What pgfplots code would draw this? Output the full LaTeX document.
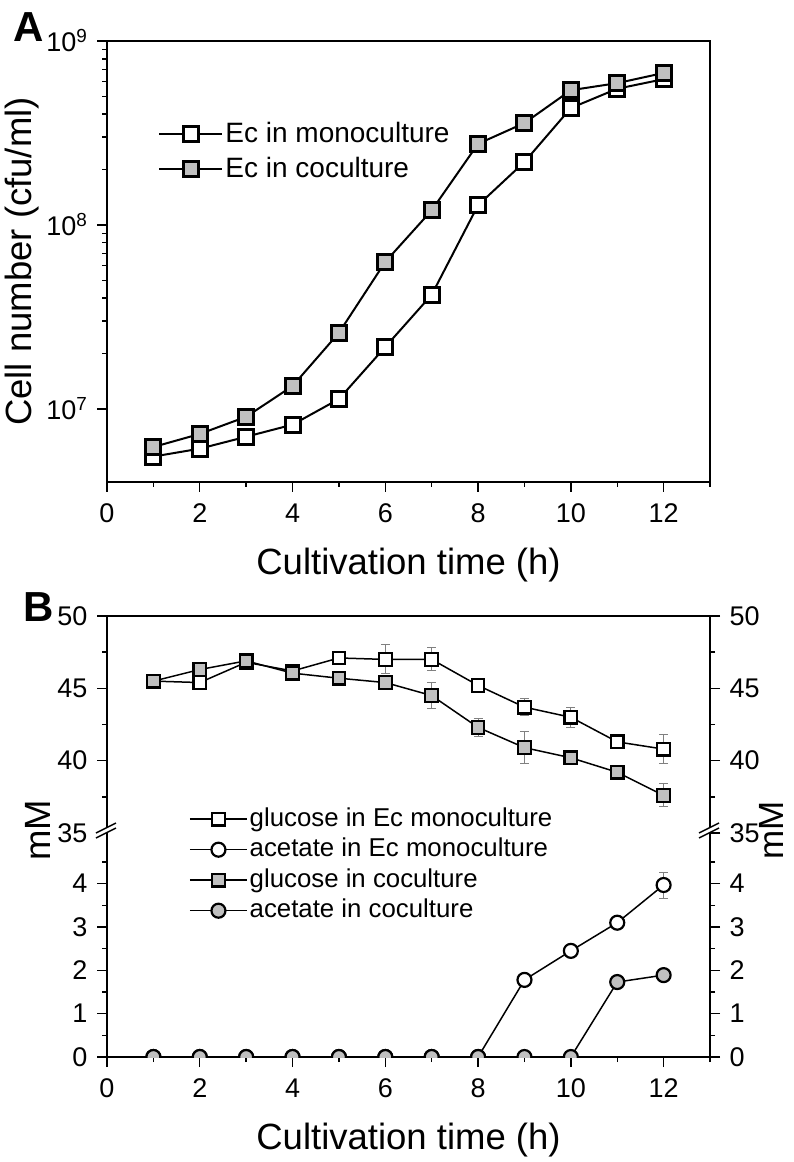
\documentclass[border=0pt]{standalone}
\usepackage{fontspec}
\setmainfont{Liberation Sans}
\usepackage{pgfplots}
\pgfplotsset{compat=1.18}
\definecolor{fillg}{RGB}{192,192,192}
\pgfplotsset{
  common/.style={
    scale only axis, width=603pt,
    xmin=0, xmax=13,
    /pgf/number format/assume math mode=true,
    tick align=outside,
    major tick length=10pt, minor tick length=5pt,
    every tick/.style={line width=1.4pt, black},
    every minor tick/.style={line width=1.4pt, black},
    axis line style={line width=1.6pt, -},
    tick label style={font=\fontsize{27}{32}\selectfont},
    xticklabel shift=8pt, yticklabel shift=6pt,
    label style={font=\fontsize{36.5}{42}\selectfont},
  },
  monoA/.style={black, line width=2pt, mark=square*, mark size=7.5pt,
    mark options={fill=white, line width=3pt, solid}},
  coA/.style={black, line width=2pt, mark=square*, mark size=7.5pt,
    mark options={fill=fillg, line width=3pt, solid}},
  sqmono/.style={black, line width=1.5pt, mark=square*, mark size=6.3pt,
    mark options={fill=white, line width=2.2pt, solid}},
  sqco/.style={black, line width=1.5pt, mark=square*, mark size=6.3pt,
    mark options={fill=fillg, line width=2.2pt, solid}},
  cimono/.style={black, line width=1.5pt, mark=*, mark size=7pt,
    mark options={fill=white, line width=2.2pt, solid}},
  cico/.style={black, line width=1.5pt, mark=*, mark size=7pt,
    mark options={fill=fillg, line width=2.2pt, solid}},
  eb/.style={error bars/.cd, y dir=both, y explicit,
    error bar style={gray, line width=1pt},
    error mark options={rotate=90, mark size=4.5pt, gray, line width=1pt}},
}
\begin{document}
\begin{tikzpicture}
\useasboundingbox (0,0) rectangle (793pt,-1162pt);
% ---------------- Panel A
\begin{axis}[common,
  at={(107pt,-482pt)}, anchor=south west, height=441pt,
  ymode=log, ymin=4e6, ymax=1e9,
  tick pos=left,
  xtick={0,2,...,12}, minor xtick={1,3,...,13},
  ytick={1e7,1e8,1e9},
  yticklabels={10\textsuperscript{7},10\textsuperscript{8},10\textsuperscript{9}},
  xlabel={Cultivation time (h)},
  ylabel={Cell number (cfu/ml)},
  xlabel style={at={(axis description cs:0.5,-0.188)}, anchor=center},
  ylabel style={at={(axis description cs:-0.141,0.5)}, anchor=center},
  legend style={draw=none, fill=none, at={(axis description cs:0.085,0.822)},
    anchor=north west, inner sep=0pt, row sep=5.5pt,
    font=\fontsize{28}{32}\selectfont,
    nodes={inner sep=2pt, text height=20.5pt, text depth=5pt}},
  legend cell align=left,
  legend image code/.code={\draw[mark repeat=2, mark phase=2] plot coordinates {(0pt,0pt) (31.5pt,0pt) (63pt,0pt)};},
]
\addplot[monoA, eb] coordinates {
 (1,5.5e6) +- (0,2e5) (2,6.07e6) +- (0,2.5e5) (3,7.05e6) +- (0,3e5) (4,8.2e6) +- (0,3.5e5)
 (5,1.13e7) +- (0,5e5) (6,2.17e7) +- (0,1e6) (7,4.17e7) +- (0,2e6) (8,1.28e8) +- (0,6e6)
 (9,2.2e8) +- (0,1e7) (10,4.32e8) +- (0,2e7) (11,5.5e8) +- (0,2.5e7) (12,6.2e8) +- (0,2.5e7)};
\addlegendentry{Ec in monoculture}
\addplot[coA, eb] coordinates {
 (1,6.2e6) +- (0,2e5) (2,7.3e6) +- (0,2.5e5) (3,9.05e6) +- (0,3e5) (4,1.33e7) +- (0,6e5)
 (5,2.59e7) +- (0,1e6) (6,6.3e7) +- (0,3e6) (7,1.2e8) +- (0,5e6) (8,2.76e8) +- (0,1.2e7)
 (9,3.58e8) +- (0,1.5e7) (10,5.4e8) +- (0,2.5e7) (11,5.9e8) +- (0,3e7) (12,6.7e8) +- (0,3.5e7)};
\addlegendentry{Ec in coculture}
\end{axis}
\node[font=\bfseries\fontsize{42}{46}\selectfont] at (29pt,-27pt) {A};
% ---------------- Panel B upper
\begin{axis}[common,
  at={(107pt,-833pt)}, anchor=south west, height=217pt,
  ymin=35, ymax=50,
  axis x line*=top, axis y line*=box, xtick=\empty,
  ytick pos=left,
  ytick={35,40,45,50}, minor ytick={37.5,42.5,47.5},
]
\addplot[sqmono, eb] coordinates {
 (1,45.5) +- (0,0.4) (2,45.4) +- (0,0.3) (3,46.8) +- (0,0.3) (4,46.2) +- (0,0.3)
 (5,47.1) +- (0,0.4) (6,47.0) +- (0,1.0) (7,47.0) +- (0,0.8) (8,45.2) +- (0,0.2)
 (9,43.7) +- (0,0.6) (10,43.0) +- (0,0.7) (11,41.3) +- (0,0.4) (12,40.8) +- (0,1.0)};
\addplot[sqco, eb] coordinates {
 (1,45.5) +- (0,0.4) (2,46.3) +- (0,0.3) (3,46.9) +- (0,0.3) (4,46.05) +- (0,0.4)
 (5,45.7) +- (0,0.2) (6,45.4) +- (0,0.3) (7,44.5) +- (0,0.9) (8,42.3) +- (0,0.6)
 (9,40.9) +- (0,1.1) (10,40.2) +- (0,0.3) (11,39.2) +- (0,0.5) (12,37.6) +- (0,0.8)};
\end{axis}
\begin{axis}[common,
  at={(107pt,-833pt)}, anchor=south west, height=217pt,
  ymin=35, ymax=50,
  axis x line=none, axis y line*=right,
  ytick pos=right, yticklabel pos=right,
  ytick={35,40,45,50}, minor ytick={37.5,42.5,47.5},
]
\addplot[draw=none] coordinates {(1,40)};
\end{axis}
% ---------------- Panel B lower
\begin{axis}[common,
  at={(107pt,-1057pt)}, anchor=south west, height=224pt,
  ymin=0, ymax=5.17,
  axis x line*=bottom, axis y line*=box,
  ytick pos=left, xtick pos=bottom,
  clip marker paths=true,
  xtick={0,2,...,12}, minor xtick={1,3,...,13},
  ytick={0,1,2,3,4}, minor ytick={0.5,1.5,2.5,3.5,4.5},
  xlabel={Cultivation time (h)},
  ylabel={mM},
  xlabel style={at={(axis description cs:0.5,-0.37)}, anchor=center},
  ylabel style={at={(axis description cs:-0.114,1.013)}, anchor=center},
  legend style={draw=none, fill=none, at={(axis description cs:0.136,1.125)},
    anchor=north west, inner sep=0pt, row sep=2.5pt,
    font=\fontsize{25.8}{30}\selectfont,
    nodes={inner sep=2pt, text height=19pt, text depth=5pt}},
  legend cell align=left,
  legend image code/.code={\draw[mark repeat=2, mark phase=2] plot coordinates {(0pt,0pt) (28.5pt,0pt) (57pt,0pt)};},
]
\addlegendimage{sqmono}
\addlegendentry{glucose in Ec monoculture}
\addplot[cimono, eb] coordinates {
 (1,0) +- (0,0.02) (2,0) +- (0,0.02) (3,0) +- (0,0.02) (4,0) +- (0,0.02)
 (5,0) +- (0,0.02) (6,0) +- (0,0.02) (7,0) +- (0,0.02) (8,0) +- (0,0.02)
 (9,1.78) +- (0,0.08) (10,2.45) +- (0,0.08) (11,3.1) +- (0,0.1) (12,3.97) +- (0,0.3)};
\addlegendentry{acetate in Ec monoculture}
\addlegendimage{sqco}
\addlegendentry{glucose in coculture}
\addplot[cico, eb] coordinates {
 (1,0) +- (0,0.02) (2,0) +- (0,0.02) (3,0) +- (0,0.02) (4,0) +- (0,0.02)
 (5,0) +- (0,0.02) (6,0) +- (0,0.02) (7,0) +- (0,0.02) (8,0) +- (0,0.02)
 (9,0) +- (0,0.02) (10,0) +- (0,0.02) (11,1.73) +- (0,0.08) (12,1.89) +- (0,0.08)};
\addlegendentry{acetate in coculture}
\end{axis}
\begin{axis}[common,
  at={(107pt,-1057pt)}, anchor=south west, height=224pt,
  ymin=0, ymax=5.17,
  axis x line=none, axis y line*=right,
  ytick pos=right, yticklabel pos=right,
  ytick={0,1,2,3,4}, minor ytick={0.5,1.5,2.5,3.5,4.5},
  ylabel={mM},
  ylabel style={at={(axis description cs:1.102,1.013)}, anchor=center, inner sep=0pt, font=\fontsize{35}{40}\selectfont},
]
\addplot[draw=none] coordinates {(1,1)};
\end{axis}
\node[font=\bfseries\fontsize{42}{46}\selectfont] at (39pt,-607pt) {B};
% axis break marks
\foreach \xx in {107,710} {
  \fill[white] (\xx pt-11pt,-838pt) -- (\xx pt+9pt,-828pt) -- (\xx pt+9pt,-823pt) -- (\xx pt-11pt,-833pt) -- cycle;
  \draw[line width=1.5pt] (\xx pt-11pt,-838pt) -- (\xx pt+9pt,-828pt);
  \draw[line width=1.5pt] (\xx pt-11pt,-833pt) -- (\xx pt+9pt,-823pt);
}
\end{tikzpicture}
\end{document}
